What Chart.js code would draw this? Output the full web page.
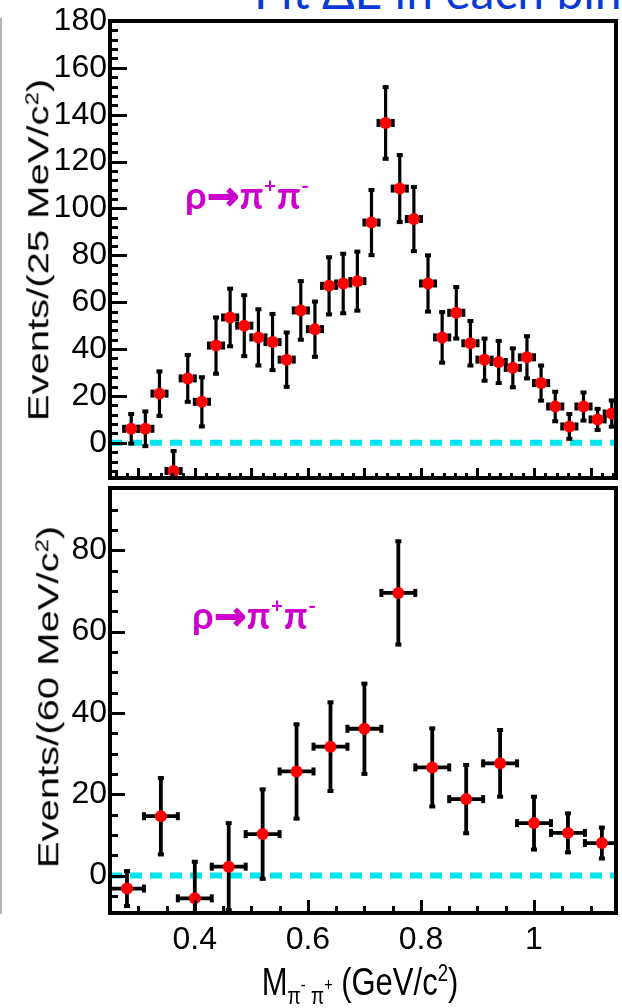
<!DOCTYPE html>
<html><head><meta charset="utf-8">
<script src="https://cdn.jsdelivr.net/npm/chart.js@4.4.1/dist/chart.umd.min.js"></script>
<style>
html,body{margin:0;padding:0;background:#fff;width:622px;height:1008px;overflow:hidden;position:relative;font-family:'Liberation Sans',Arial,sans-serif;}
canvas{position:absolute;left:0;}
#c1{top:0;}
#c2{top:482px;}
.ov{position:absolute;white-space:nowrap;line-height:1;}
#slideTitle{left:254px;top:-33px;font-family:Lato,'Open Sans',sans-serif;font-size:48px;color:#0a3ad6;}
.rho{font-family:Lato,'Open Sans',sans-serif;font-weight:bold;font-size:38px;color:#cc00cc;letter-spacing:0.5px;}
.rho .arr{font-family:'DejaVu Sans',sans-serif;font-weight:bold;font-size:1em;-webkit-text-stroke:1.5px #cc00cc;}
.rho .s{font-size:0.55em;position:relative;top:-0.75em;}
.ytitle{font-family:'Liberation Sans',Arial,sans-serif;font-size:40px;color:#000;transform:translate(-50%,-50%) rotate(-90deg) scaleY(0.76);}
.ytitle .s{font-size:0.6em;position:relative;top:-0.6em;}
#xtitle{font-family:'Liberation Sans',Arial,sans-serif;font-size:31px;color:#000;transform:translate(-50%,-50%) scaleY(1.25);}
#xtitle .sub{font-size:0.62em;position:relative;top:0.35em;}
#xtitle .sub .s{font-size:0.75em;position:relative;top:-0.7em;}
#xtitle .s2{font-size:0.6em;position:relative;top:-0.6em;}
</style></head><body>
<div class="ov" id="slideTitle">Fit ΔE in each bin</div>
<div style="position:absolute;left:0;top:18px;width:2px;height:896px;background:#b4b4b4"></div>
<canvas id="c1" width="622" height="484"></canvas>
<canvas id="c2" width="622" height="526"></canvas>
<div class="ov ytitle" style="left:38px;top:250px">Events/(25 MeV/c<span class="s">2</span>)</div>
<div class="ov ytitle" style="left:48px;top:697px">Events/(60 MeV/c<span class="s">2</span>)</div>
<div class="ov" id="xtitle" style="left:360px;top:982px">M<span class="sub">π<span class="s">-</span> π<span class="s">+</span></span> (GeV/c<span class="s2">2</span>)</div>
<div class="ov rho" style="left:185px;top:175px">ρ<span class="arr">→</span>π<span class="s">+</span>π<span class="s">-</span></div>
<div class="ov rho" style="left:192px;top:595px">ρ<span class="arr">→</span>π<span class="s">+</span>π<span class="s">-</span></div>
<script>
// ---------- data ----------
const X_MIN = 0.25, X_MAX = 1.145;

// top panel: 25 MeV bins
const topX = [0.2875,0.3125,0.3375,0.3625,0.3875,0.4125,0.4375,0.4625,0.4875,0.5125,0.5375,0.5625,0.5875,0.6125,0.6375,0.6625,0.6875,0.7125,0.7375,0.7625,0.7875,0.8125,0.8375,0.8625,0.8875,0.9125,0.9375,0.9625,0.9875,1.0125,1.0375,1.0625,1.0875,1.1125,1.1375];
const topY = [6,6,21,-12,27.5,17.5,41.5,53.5,50,45,43,35.5,56.5,48.5,67,68,69,94,136.5,108.5,95.5,68,45,55.5,42.5,35.5,34.5,32,36.5,25.5,15.5,7,15.5,10,12.5];
const topErr = [6.3,7.4,9.5,8.5,10,10.5,12,12.3,13,12,12,11.6,12.5,11.8,12.2,12.7,12.6,13.9,15.3,14.3,13.7,12,10.8,11,9.5,9,9,8.3,9,7.5,6.3,5.3,6,4.5,5.6];
const TOP_HALF_BIN = 0.0125;
const topYTicks = [0,20,40,60,80,100,120,140,160,180];

// bottom panel: 60 MeV bins
const botX = [0.28,0.34,0.40,0.46,0.52,0.58,0.64,0.70,0.76,0.82,0.88,0.94,1.00,1.06,1.12];
const botY = [-3.2,14.6,-5.6,2.2,10.2,25.6,31.7,36.1,69.5,26.6,18.8,27.6,12.9,10.5,8];
const botErr = [4.3,9.4,9,10.7,11,11.6,10.9,11.1,12.7,9.6,8.4,8.2,6.5,4.8,3.8];
const BOT_HALF_BIN = 0.03;
const botYTicks = [0,20,40,60,80];
const botXTicks = [0.4,0.6,0.8,1.0];
const botXLabels = ['0.4','0.6','0.8','1'];

// ---------- plugins ----------
const errorBars = {
  id: 'errorBars',
  beforeDatasetDraw(chart, args, opts) {
    const ds = chart.data.datasets[args.index];
    if (!ds.errors) return;
    const {ctx, chartArea: a, scales: {x, y}} = chart;
    ctx.save();
    ctx.beginPath();
    ctx.rect(a.left, a.top, a.right - a.left, a.bottom - a.top);
    ctx.clip();
    ctx.strokeStyle = '#000';
    ctx.fillStyle = '#000';
    ctx.lineWidth = opts.lw;
    ds.data.forEach((p, i) => {
      const e = ds.errors[i];
      const px = x.getPixelForValue(p.x), py = y.getPixelForValue(p.y);
      const t = y.getPixelForValue(p.y + e), b = y.getPixelForValue(p.y - e);
      const l = x.getPixelForValue(p.x - ds.halfBin), r = x.getPixelForValue(p.x + ds.halfBin);
      ctx.beginPath();
      ctx.moveTo(px, t); ctx.lineTo(px, b);
      ctx.moveTo(l, py); ctx.lineTo(r, py);
      ctx.stroke();
      const cw = opts.capW, ch = opts.capH;
      ctx.fillRect(px - cw / 2, t - ch / 2, cw, ch);
      ctx.fillRect(px - cw / 2, b - ch / 2, cw, ch);
      ctx.fillRect(l - ch / 2, py - cw / 2 - 1, ch, cw + 2);
      ctx.fillRect(r - ch / 2, py - cw / 2 - 1, ch, cw + 2);
    });
    ctx.restore();
  }
};

const frameTicks = {
  id: 'frameTicks',
  afterDatasetsDraw(chart, args, o) {
    const {ctx, chartArea: a, scales: {x, y}} = chart;
    ctx.save();
    ctx.strokeStyle = '#000';
    ctx.lineWidth = 3;
    ctx.beginPath();
    const eps = 1e-6;
    for (let v = o.yMinorStart; v <= y.max + eps; v += o.yMinorStep) {
      const isMajor = Math.abs(v / o.yMajorStep - Math.round(v / o.yMajorStep)) < 1e-6;
      const py = Math.round(y.getPixelForValue(v)) + 0.5;
      if (py < a.top + 2 || py > a.bottom - 2) continue;
      ctx.moveTo(a.left, py);
      ctx.lineTo(a.left + (isMajor ? o.yMajorLen : o.yMinorLen), py);
    }
    for (let v = o.xMinorStart; v <= x.max + eps; v += o.xMinorStep) {
      const isMajor = Math.abs(v / o.xMajorStep - Math.round(v / o.xMajorStep)) < 1e-6;
      const px = Math.round(x.getPixelForValue(v)) + 0.5;
      if (px < a.left + 2 || px > a.right - 2) continue;
      ctx.moveTo(px, a.bottom);
      ctx.lineTo(px, a.bottom - (isMajor ? o.xMajorLen : o.xMinorLen));
    }
    ctx.stroke();
    ctx.lineWidth = 4;
    ctx.strokeRect(a.left, a.top, a.right - a.left, a.bottom - a.top);
    ctx.restore();
  }
};

const tickFont = {family: "'Liberation Sans Narrow','Liberation Sans',Arial,sans-serif", size: 32};

function makeChart(canvas, xs, ys, errs, halfBin, yMin, yMax, yTicks, isBottom, pluginOpts, barOpts) {
  return new Chart(canvas, {
    type: 'scatter',
    data: {
      datasets: [
        {
          data: xs.map((v, i) => ({x: v, y: ys[i]})),
          errors: errs,
          halfBin: halfBin,
          pointRadius: 6,
          pointBackgroundColor: '#ff0000',
          pointBorderWidth: 0,
          pointHoverRadius: 6,
          clip: 0,
          order: 0
        },
        {
          data: [{x: X_MIN, y: 0}, {x: X_MAX, y: 0}],
          showLine: true,
          borderColor: '#00e4ee',
          borderWidth: 6,
          borderDash: [12, 8],
          borderCapStyle: 'butt',
          pointRadius: 0,
          order: 2
        }
      ]
    },
    options: {
      responsive: false,
      animation: false,
      events: [],
      layout: {padding: isBottom ? {top: 2, bottom: 0, left: 0, right: 2} : {top: 21, bottom: 2, left: 0, right: 2}},
      plugins: {
        legend: {display: false},
        tooltip: {enabled: false},
        errorBars: barOpts,
        frameTicks: pluginOpts
      },
      scales: {
        x: {
          type: 'linear',
          min: X_MIN, max: X_MAX,
          display: isBottom,
          grid: {display: false, drawTicks: false},
          border: {display: false},
          afterBuildTicks: (s) => { if (isBottom) s.ticks = botXTicks.map(v => ({value: v})); },
          afterFit: (s) => { if (isBottom) s.height = 95; s.paddingLeft = 0; s.paddingRight = 0; },
          ticks: {
            font: {family: "'Liberation Sans',Arial,sans-serif", size: 32},
            color: '#000',
            padding: 8,
            maxRotation: 0,
            autoSkip: false,
            callback: (v) => { const i = botXTicks.findIndex(t => Math.abs(t - v) < 1e-9); return i >= 0 ? botXLabels[i] : ''; }
          }
        },
        y: {
          type: 'linear',
          min: yMin, max: yMax,
          grid: {display: false, drawTicks: false},
          border: {display: false},
          afterBuildTicks: (s) => { s.ticks = yTicks.map(v => ({value: v})); },
          afterFit: (s) => { s.width = 110; s.paddingTop = 0; s.paddingBottom = 0; },
          ticks: {font: tickFont, color: '#000', padding: 3, autoSkip: false,
            callback: (v) => String(v)}
        }
      }
    },
    plugins: [errorBars, frameTicks]
  });
}

makeChart(document.getElementById('c1'), topX, topY, topErr, TOP_HALF_BIN, -15, 180, topYTicks, false,
  {yMinorStart: -12, yMinorStep: 4, yMajorStep: 20, yMajorLen: 17, yMinorLen: 8,
   xMinorStart: 0.26, xMinorStep: 0.02, xMajorStep: 0.1, xMajorLen: 10, xMinorLen: 5},
  {lw: 3.2, capW: 6, capH: 4});

makeChart(document.getElementById('c2'), botX, botY, botErr, BOT_HALF_BIN, -9.2, 95.3, botYTicks, true,
  {yMinorStart: -5, yMinorStep: 5, yMajorStep: 20, yMajorLen: 15, yMinorLen: 8,
   xMinorStart: 0.30, xMinorStep: 0.05, xMajorStep: 0.2, xMajorLen: 13, xMinorLen: 7},
  {lw: 3.8, capW: 6, capH: 4});
</script>
</body></html>
